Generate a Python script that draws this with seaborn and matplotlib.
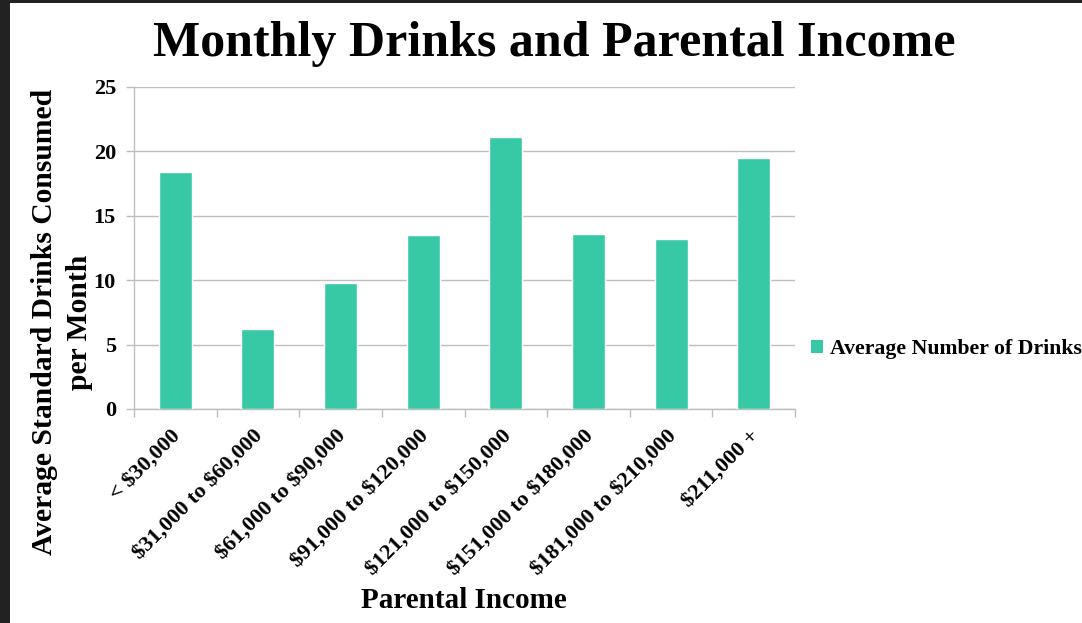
import matplotlib
matplotlib.use("Agg")
import matplotlib.pyplot as plt
import matplotlib.transforms as mtransforms
import seaborn as sns
import pandas as pd
import numpy as np
from matplotlib.patches import Rectangle

categories = ["< $30,000", "$31,000 to $60,000", "$61,000 to $90,000", "$91,000 to $120,000",
              "$121,000 to $150,000", "$151,000 to $180,000", "$181,000 to $210,000", "$211,000 +"]
avg_drinks = [18.4, 6.2, 9.8, 13.5, 21.1, 13.6, 13.2, 19.5]
y_ticks = [0, 5, 10, 15, 20, 25]

sns.set_theme(style="white")
plt.rcParams["font.family"] = ["Liberation Serif", "DejaVu Serif"]
plt.rcParams["font.weight"] = "bold"
plt.rcParams["text.parse_math"] = False
plt.rcParams["text.color"] = "black"
plt.rcParams["xtick.color"] = "black"
plt.rcParams["ytick.color"] = "black"
plt.rcParams["axes.labelcolor"] = "black"

bar_color = "#37C9A6"
grid_color = "#BEBEBE"

W, H = 1082, 623
fig = plt.figure(figsize=(W / 100, H / 100), dpi=100)
fig.patch.set_facecolor("white")
ax = fig.add_axes([134 / W, 1 - 409 / H, (795 - 134) / W, (409 - 87) / H])

df = pd.DataFrame({"income": categories, "drinks": avg_drinks})
sns.barplot(data=df, x="income", y="drinks", color=bar_color, width=0.4,
            saturation=1, ax=ax, zorder=3)

ax.set_ylim(0, 25)
ax.set_xlim(-0.5, len(categories) - 0.5)
ax.set_yticks(y_ticks)
ax.yaxis.grid(True, color=grid_color, linewidth=1.0, zorder=0)
ax.set_axisbelow(True)

for side in ["top", "right"]:
    ax.spines[side].set_visible(False)
for side in ["left", "bottom"]:
    ax.spines[side].set_color(grid_color)
    ax.spines[side].set_linewidth(1.0)

ax.tick_params(axis="y", which="major", length=6, width=1, color=grid_color,
               labelcolor="black", pad=7, labelsize=16, left=True)
ax.tick_params(axis="x", which="major", length=0, pad=12, labelsize=16, labelcolor="black")
ax.set_xticks(np.arange(-0.5, len(categories), 1.0), minor=True)
ax.tick_params(axis="x", which="minor", length=6, width=1, color=grid_color, bottom=True)

for lbl in ax.get_yticklabels():
    lbl.set_fontweight("bold")
shift = mtransforms.ScaledTranslation(-5 / 100, 0, fig.dpi_scale_trans)
for lbl in ax.get_xticklabels():
    lbl.set_rotation(45)
    lbl.set_ha("right")
    lbl.set_rotation_mode("anchor")
    lbl.set_fontweight("bold")
    lbl.set_transform(lbl.get_transform() + shift)

ax.set_xlabel("")
ax.set_ylabel("")

fig.text(464 / W, 1 - 601 / H, "Parental Income", ha="center", va="center",
         fontsize=21, fontweight="bold")
fig.text(62 / W, 1 - 322 / H, "Average Standard Drinks Consumed\nper Month",
         rotation=90, ha="center", va="center", multialignment="center",
         fontsize=21.3, fontweight="bold", linespacing=1.34)
fig.text(554 / W, 1 - 44 / H, "Monthly Drinks and Parental Income",
         ha="center", va="center", fontsize=36, fontweight="bold")

handle = Rectangle((0, 0), 1, 1, facecolor=bar_color, edgecolor="none")
fig.legend([handle], ["Average Number of Drinks"], loc="center left",
           bbox_to_anchor=(811 / W, 1 - 349 / H), frameon=False,
           handlelength=0.55, handleheight=0.55, handletextpad=0.3,
           borderaxespad=0, borderpad=0, prop={"weight": "bold", "size": 15.7})

# dark frame along the top and left edges
fig.add_artist(Rectangle((0, 0), 10 / W, 1, transform=fig.transFigure,
                         facecolor="#222222", edgecolor="none", zorder=10))
fig.add_artist(Rectangle((0, 1 - 3 / H), 1, 3 / H, transform=fig.transFigure,
                         facecolor="#222222", edgecolor="none", zorder=10))

fig.savefig("out.png", dpi=100, facecolor="white")
